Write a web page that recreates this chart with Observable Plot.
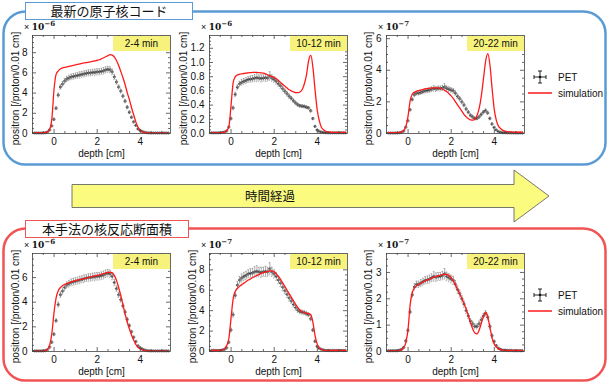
<!DOCTYPE html>
<html><head><meta charset="utf-8">
<script src="https://cdn.jsdelivr.net/npm/d3@7"></script>
<script src="https://cdn.jsdelivr.net/npm/@observablehq/plot@0.6"></script>
<style>
body{margin:0;background:#fff;}
#root{position:relative;width:610px;height:384px;overflow:hidden;font-family:"Liberation Sans",Arial,sans-serif;}
.panel{position:absolute;}
.tag{position:absolute;background:#f6f27c;font-size:10px;text-align:center;line-height:15px;height:15px;width:57px;color:#111;}
.exp{position:absolute;font-size:9px;line-height:10px;height:10px;color:#111;white-space:nowrap;}
.exp b{font-family:"DejaVu Serif",serif;font-size:9px;}
.exp sup{font-size:7px;line-height:0;}
.title{position:absolute;background:#fff;border:1.5px solid;box-sizing:border-box;font-family:"Noto Sans CJK JP",sans-serif;font-size:13px;text-align:center;color:#111;}
#deco{position:absolute;left:0;top:0;}
</style>
</head><body><div id="root">
<svg id="deco" width="610" height="384">
  <rect x="3.5" y="11.5" width="602" height="153" rx="22" fill="none" stroke="#5b9bd5" stroke-width="2.5"/>
  <rect x="3.5" y="228.5" width="602" height="152" rx="22" fill="none" stroke="#f05454" stroke-width="2.5"/>
  <polygon points="72,184.5 514,184.5 514,170 549,196 514,222 514,207.5 72,207.5" fill="#fbfb80" stroke="#555" stroke-width="0.8"/>
  <text x="270" y="200.5" text-anchor="middle" font-family="Noto Sans CJK JP" font-size="12.5" fill="#111">時間経過</text>
</svg>
<div class="title" style="left:25px;top:2px;width:168px;height:18px;line-height:15px;border-color:#5b9bd5;">最新の原子核コード</div>
<div class="title" style="left:25px;top:220px;width:164px;height:18px;line-height:15px;border-color:#f05454;">本手法の核反応断面積</div>
</div>
<script>
// depth bins [cm]
const depth = [-0.9,-0.8,-0.7,-0.6,-0.5,-0.4,-0.3,-0.2,-0.1,
  0.0,0.1,0.2,0.3,0.4,0.5,0.6,0.7,0.8,0.9,
  1.0,1.1,1.2,1.3,1.4,1.5,1.6,1.7,1.8,1.9,
  2.0,2.1,2.2,2.3,2.4,2.5,2.6,2.7,2.8,2.9,
  3.0,3.1,3.2,3.3,3.4,3.5,3.6,3.7,3.8,3.9,
  4.0,4.1,4.2,4.3,4.4,4.5,4.6,4.7,4.8,4.9,
  5.0,5.1,5.2,5.3];

// PET 2-4 min (x1e-6)
const pet1 = [0.05,0.05,0.05,0.05,0.05,0.08,0.15,0.35,0.75,
  1.4,2.5,3.8,4.6,4.9,5.2,5.4,5.5,5.6,5.65,
  5.7,5.75,5.8,5.85,5.9,5.95,6.0,6.0,6.05,6.05,
  6.1,6.1,6.15,6.2,6.3,6.35,6.3,6.1,5.6,5.1,
  4.6,4.2,3.7,3.2,2.6,2.1,1.6,1.15,0.8,0.45,
  0.3,0.2,0.12,0.08,0.06,0.05,0.05,0.05,0.05,0.05,
  0.05,0.05,0.05,0.05];
const err1 = [0.03,0.03,0.03,0.03,0.03,0.04,0.05,0.08,0.1,
  0.12,0.15,0.2,0.22,0.25,0.25,0.25,0.27,0.27,0.28,
  0.28,0.28,0.3,0.28,0.3,0.28,0.3,0.3,0.3,0.32,
  0.3,0.3,0.3,0.32,0.3,0.3,0.3,0.28,0.25,0.22,
  0.2,0.2,0.18,0.17,0.15,0.13,0.12,0.1,0.08,0.07,
  0.06,0.05,0.04,0.04,0.03,0.03,0.03,0.03,0.03,0.03,
  0.03,0.03,0.03,0.03];
// PET 10-12 min (x1e-7)
const pet2 = [0.1,0.1,0.1,0.1,0.1,0.15,0.2,0.35,0.9,
  2.1,3.6,5.5,6.5,7.0,7.2,7.35,7.45,7.6,7.65,
  7.7,7.8,7.85,7.8,7.75,7.8,7.85,7.8,8.1,7.8,
  7.6,7.35,7.0,6.7,6.3,5.95,5.6,5.25,4.95,4.6,
  4.3,4.05,3.9,3.85,3.8,3.7,3.6,3.2,2.1,1.0,
  0.5,0.3,0.2,0.15,0.1,0.1,0.1,0.1,0.1,0.1,
  0.1,0.1,0.1,0.1];
const err2 = [0.05,0.05,0.05,0.05,0.05,0.06,0.08,0.1,0.15,
  0.2,0.25,0.3,0.35,0.35,0.4,0.4,0.4,0.4,0.45,
  0.45,0.5,0.55,0.45,0.5,0.45,0.5,0.45,0.6,0.45,
  0.4,0.4,0.35,0.35,0.35,0.3,0.3,0.3,0.25,0.25,
  0.25,0.22,0.2,0.2,0.2,0.2,0.2,0.18,0.15,0.12,
  0.08,0.06,0.05,0.05,0.05,0.05,0.05,0.05,0.05,0.05,
  0.05,0.05,0.05,0.05];
// PET 20-22 min (x1e-7)
const pet3 = [0.03,0.03,0.03,0.03,0.03,0.05,0.08,0.15,0.4,
  0.8,1.5,2.15,2.45,2.55,2.55,2.6,2.65,2.7,2.72,
  2.75,2.8,2.85,2.82,2.85,2.85,2.88,2.95,2.85,2.8,
  2.75,2.7,2.55,2.35,2.2,2.0,1.8,1.55,1.35,1.15,
  1.05,0.95,0.95,1.05,1.2,1.35,1.45,1.3,0.95,0.6,
  0.38,0.22,0.12,0.08,0.05,0.05,0.04,0.04,0.04,0.03,
  0.03,0.03,0.03,0.03];
const err3 = [0.02,0.02,0.02,0.02,0.02,0.02,0.03,0.04,0.05,
  0.06,0.08,0.1,0.12,0.12,0.12,0.13,0.13,0.14,0.14,
  0.15,0.15,0.18,0.16,0.15,0.15,0.16,0.2,0.16,0.15,
  0.15,0.15,0.14,0.14,0.13,0.12,0.12,0.11,0.1,0.1,
  0.1,0.09,0.09,0.1,0.1,0.1,0.1,0.1,0.09,0.07,
  0.05,0.04,0.03,0.03,0.02,0.02,0.02,0.02,0.02,0.02,
  0.02,0.02,0.02,0.02];

// simulation, latest nuclear code
const simOld1 = [0.05,0.05,0.05,0.05,0.06,0.1,0.2,0.45,1.5,
  4.4,5.9,6.2,6.4,6.5,6.55,6.6,6.65,6.7,6.75,
  6.8,6.85,6.9,6.95,7.0,7.02,7.06,7.1,7.15,7.2,
  7.25,7.3,7.4,7.5,7.6,7.7,7.8,7.75,7.55,7.2,
  6.7,6.1,5.5,4.8,4.0,3.3,2.5,1.8,1.1,0.6,
  0.3,0.15,0.1,0.06,0.05,0.04,0.04,0.03,0.03,0.03,
  0.03,0.03,0.03,0.03];
// (x1e-6)
const simOld2 = [0.01,0.01,0.01,0.01,0.01,0.015,0.02,0.04,0.1,
  0.4,0.72,0.8,0.825,0.835,0.84,0.845,0.85,0.855,0.857,
  0.86,0.86,0.86,0.858,0.855,0.85,0.84,0.825,0.81,0.8,
  0.79,0.77,0.745,0.72,0.69,0.665,0.64,0.615,0.6,0.585,
  0.575,0.575,0.585,0.62,0.7,0.83,1.03,1.1,0.92,0.6,
  0.32,0.17,0.08,0.05,0.03,0.02,0.02,0.015,0.015,0.015,
  0.015,0.015,0.015,0.015];
const simOld3 = [0.05,0.05,0.05,0.05,0.05,0.07,0.1,0.2,0.45,
  1.1,2.1,2.5,2.62,2.68,2.72,2.76,2.79,2.82,2.84,
  2.86,2.88,2.89,2.89,2.88,2.85,2.8,2.72,2.64,2.52,
  2.38,2.2,2.0,1.8,1.6,1.4,1.2,1.05,0.93,0.86,
  0.84,0.9,1.15,1.6,2.4,3.5,4.6,5.05,4.3,2.8,
  1.5,0.8,0.45,0.3,0.2,0.15,0.12,0.1,0.1,0.08,
  0.08,0.08,0.08,0.08];
// simulation, this method's cross sections
const simNew1 = [0.03,0.03,0.03,0.03,0.03,0.07,0.2,0.55,1.5,
  3.2,4.4,4.95,5.2,5.35,5.45,5.52,5.58,5.64,5.7,
  5.75,5.8,5.84,5.88,5.92,5.96,6.0,6.05,6.1,6.14,
  6.18,6.22,6.27,6.32,6.37,6.41,6.43,6.38,6.15,5.75,
  5.15,4.5,3.75,3.0,2.35,1.8,1.3,0.9,0.55,0.33,
  0.2,0.12,0.08,0.05,0.04,0.03,0.03,0.03,0.03,0.03,
  0.03,0.03,0.03,0.03];
const simNew2 = [0.1,0.1,0.1,0.1,0.1,0.15,0.3,0.6,1.3,
  3.3,5.2,5.9,6.2,6.4,6.55,6.7,6.85,7.0,7.1,
  7.25,7.35,7.45,7.55,7.65,7.72,7.8,7.85,7.9,7.88,
  7.8,7.6,7.35,7.05,6.7,6.35,6.0,5.65,5.3,4.95,
  4.6,4.3,4.05,3.9,3.8,3.75,3.72,3.6,2.8,1.5,
  0.7,0.35,0.2,0.12,0.1,0.1,0.1,0.1,0.1,0.1,
  0.1,0.1,0.1,0.1];
const simNew3 = [0.02,0.02,0.02,0.02,0.02,0.04,0.07,0.15,0.35,
  0.85,1.8,2.25,2.42,2.5,2.55,2.6,2.64,2.68,2.72,
  2.75,2.78,2.82,2.85,2.88,2.9,2.92,2.93,2.93,2.88,
  2.8,2.68,2.52,2.35,2.18,2.0,1.8,1.6,1.35,1.08,
  0.85,0.7,0.67,0.82,1.08,1.35,1.48,1.3,0.9,0.5,
  0.28,0.17,0.1,0.07,0.05,0.04,0.04,0.04,0.04,0.04,
  0.04,0.04,0.04,0.04];

const timeLabels = ["2-4 min", "10-12 min", "20-22 min"];
const expLabels = ["−6", "−6", "−7", "−6", "−7", "−7"];
const xMajor = [0, 2, 4];
const xMinor = [-1, -0.5, 0.5, 1, 1.5, 2.5, 3, 3.5, 4.5, 5];
const yTitle = "positron [/proton/0.01 cm]";
const xTitle = "depth [cm]";
const legendLabels = ["PET", "simulation"];

const panels = [
  {pet: pet1, err: err1, sim: simOld1, ymax: 9.7, yMajor: [0,2,4,6,8], step: 0.5, fmt: d => String(d), tag: 0, exp: 0, col: 0, row: 0, scale: 1, lo: 17},
  {pet: pet2, err: err2, sim: simOld2, ymax: 1.38, yMajor: [0,0.2,0.4,0.6,0.8,1.0,1.2], step: 0.05, fmt: d => d.toFixed(1), tag: 1, exp: 1, col: 1, row: 0, scale: 0.1, lo: 26},
  {pet: pet3, err: err3, sim: simOld3, ymax: 6.2, yMajor: [0,2,4,6], step: 0.5, fmt: d => String(d), tag: 2, exp: 2, col: 2, row: 0, scale: 1, lo: 18},
  {pet: pet1, err: err1, sim: simNew1, ymax: 7.95, yMajor: [0,2,4,6], step: 0.5, fmt: d => String(d), tag: 0, exp: 3, col: 0, row: 1, scale: 1, lo: 17},
  {pet: pet2, err: err2, sim: simNew2, ymax: 9.6, yMajor: [0,2,4,6,8], step: 0.5, fmt: d => String(d), tag: 1, exp: 4, col: 1, row: 1, scale: 1, lo: 17},
  {pet: pet3, err: err3, sim: simNew3, ymax: 3.72, yMajor: [0,1,2,3], step: 0.25, fmt: d => String(d), tag: 2, exp: 5, col: 2, row: 1, scale: 1, lo: 18}
];

const ML = 32, MR = 6, MT = 15, MB = 27, PW = 176, PH = 140;
const W = PW - ML - MR, H = PH - MT - MB;
const root = document.getElementById("root");

for (const p of panels) {
  // PET of 10-12 min is stored in x1e-7; the top panel is drawn in x1e-6 -> scale
  const rows = depth.map((x, i) => ({x, v: p.pet[i] * p.scale, e: p.err[i] * p.scale, s: p.sim[i]}));
  const yMinor = [];
  for (let k = 1; k * p.step < p.ymax; k++) {
    const v = +(k * p.step).toFixed(4);
    if (!p.yMajor.some(m => Math.abs(m - v) < 1e-6)) yMinor.push(v);
  }
  const chart = Plot.plot({
    width: PW, height: PH, marginLeft: ML, marginRight: MR, marginTop: MT, marginBottom: MB,
    style: "background:transparent;font-size:10px;font-family:'Liberation Sans',Arial,sans-serif;color:#111;overflow:visible;",
    x: {domain: [-1, 5.4]},
    y: {domain: [0, p.ymax]},
    marks: [
      Plot.ruleX(rows, {x: "x", y1: d => d.v - d.e, y2: d => d.v + d.e, stroke: "#8a8a8a", strokeWidth: 0.7}),
      Plot.ruleY(rows, {y: d => d.v + d.e, x1: d => d.x - 0.03, x2: d => d.x + 0.03, stroke: "#8a8a8a", strokeWidth: 0.7}),
      Plot.ruleY(rows, {y: d => d.v - d.e, x1: d => d.x - 0.03, x2: d => d.x + 0.03, stroke: "#8a8a8a", strokeWidth: 0.7}),
      Plot.ruleY(rows, {y: "v", x1: d => d.x - 0.05, x2: d => d.x + 0.05, stroke: "#222", strokeWidth: 0.7}),
      Plot.dot(rows, {x: "x", y: "v", r: 1.2, stroke: "#222", strokeWidth: 0.5}),
      Plot.line(rows, {x: "x", y: "s", stroke: "#ff1a1a", strokeWidth: 1.3, curve: "monotone-x"}),
      Plot.frame({stroke: "#444", strokeWidth: 0.8}),
      Plot.tickX(xMajor, {x: d => d, insetTop: H - 4, stroke: "#444", strokeWidth: 0.8}),
      Plot.tickX(xMajor, {x: d => d, insetBottom: H - 4, stroke: "#444", strokeWidth: 0.8}),
      Plot.tickX(xMinor, {x: d => d, insetTop: H - 2, stroke: "#444", strokeWidth: 0.8}),
      Plot.tickX(xMinor, {x: d => d, insetBottom: H - 2, stroke: "#444", strokeWidth: 0.8}),
      Plot.tickY(p.yMajor, {y: d => d, insetRight: W - 4, stroke: "#444", strokeWidth: 0.8}),
      Plot.tickY(p.yMajor, {y: d => d, insetLeft: W - 4, stroke: "#444", strokeWidth: 0.8}),
      Plot.tickY(yMinor, {y: d => d, insetRight: W - 2, stroke: "#444", strokeWidth: 0.8}),
      Plot.tickY(yMinor, {y: d => d, insetLeft: W - 2, stroke: "#444", strokeWidth: 0.8}),
      Plot.axisX({ticks: xMajor, tickSize: 0, tickPadding: 4, tickFormat: d => String(d), label: null}),
      Plot.axisY({ticks: p.yMajor, tickSize: 0, tickPadding: 5, tickFormat: p.fmt, label: null}),
      Plot.text([xTitle], {frameAnchor: "bottom", dy: 20, lineAnchor: "middle", fontSize: 10, fill: "#111"}),
      Plot.text([yTitle], {frameAnchor: "left", rotate: -90, dx: -p.lo, dy: 4, lineAnchor: "middle", textAnchor: "middle", fontSize: 10, fill: "#111"})
    ]
  });
  const wrap = document.createElement("div");
  wrap.className = "panel";
  wrap.style.left = (p.col * 177) + "px";
  wrap.style.top = (p.row === 0 ? 20 : 238) + "px";
  wrap.style.width = PW + "px";
  wrap.style.height = PH + "px";
  wrap.appendChild(chart);
  const tag = document.createElement("div");
  tag.className = "tag";
  tag.style.left = (ML + W - 57) + "px";
  tag.style.top = (MT + 0.5) + "px";
  tag.textContent = timeLabels[p.tag];
  wrap.appendChild(tag);
  const ex = document.createElement("div");
  ex.className = "exp";
  ex.style.left = (ML - 8) + "px";
  ex.style.top = (MT - 13) + "px";
  ex.innerHTML = "× <b>10<sup>" + expLabels[p.exp] + "</sup></b>";
  wrap.appendChild(ex);
  root.appendChild(wrap);
}

// legends
const ns = "http://www.w3.org/2000/svg";
const deco = document.getElementById("deco");
for (const dy of [0, 218]) {
  const g = document.createElementNS(ns, "g");
  g.setAttribute("font-family", "Liberation Sans, Arial, sans-serif");
  g.setAttribute("font-size", "10");
  g.setAttribute("fill", "#111");
  const cy = 77 + dy, cx = 540;
  g.innerHTML =
    `<g stroke="#111" stroke-width="0.9">
      <line x1="${cx}" y1="${cy-6}" x2="${cx}" y2="${cy+6}"/>
      <line x1="${cx-6}" y1="${cy}" x2="${cx+6}" y2="${cy}"/>
      <line x1="${cx-2}" y1="${cy-6}" x2="${cx+2}" y2="${cy-6}"/>
      <line x1="${cx-2}" y1="${cy+6}" x2="${cx+2}" y2="${cy+6}"/>
      <line x1="${cx-6}" y1="${cy-2}" x2="${cx-6}" y2="${cy+2}"/>
      <line x1="${cx+6}" y1="${cy-2}" x2="${cx+6}" y2="${cy+2}"/>
    </g>
    <circle cx="${cx}" cy="${cy}" r="1.3" fill="#111"/>
    <text x="558" y="${cy+3.5}">${legendLabels[0]}</text>
    <line x1="528" y1="${cy+16}" x2="552" y2="${cy+16}" stroke="#ff1a1a" stroke-width="1.5"/>
    <text x="558" y="${cy+19.5}">${legendLabels[1]}</text>`;
  deco.appendChild(g);
}
</script>
</body></html>
